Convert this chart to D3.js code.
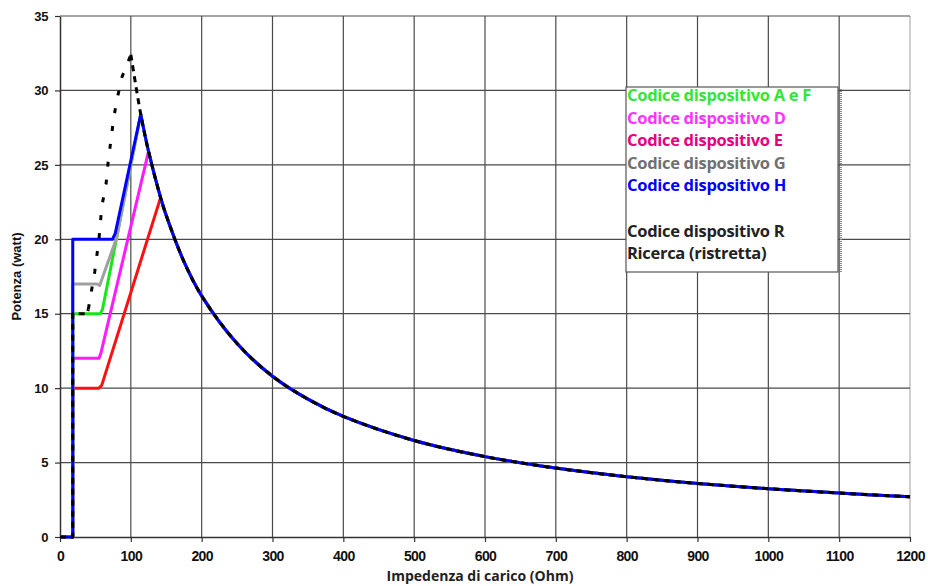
<!DOCTYPE html>
<html>
<head>
<meta charset="utf-8">
<title>Potenza / Impedenza</title>
<script src="https://cdn.jsdelivr.net/npm/d3@7"></script>
<style>
  body { margin: 0; background: #fff; }
  svg { display: block; }
</style>
</head>
<body>
<div id="chart"></div>
<script>
// ticks
var xTicks = [0, 100, 200, 300, 400, 500, 600, 700, 800, 900, 1000, 1100, 1200];
var yTicks = [0, 5, 10, 15, 20, 25, 30, 35];

// descending branch shared by every device (ohm, watt)
var tailOhm = [100, 114, 125, 142, 150, 175, 200, 250, 300, 350, 400, 500, 600, 700, 800, 900, 1000, 1100, 1200];
var tailWatt = [32.4, 28.4, 25.9, 22.8, 21.6, 18.5, 16.2, 13.0, 10.8, 9.26, 8.1, 6.48, 5.4, 4.63, 4.05, 3.6, 3.24, 2.95, 2.7];

// rising part of each device
var riseOhmAF = [0, 18, 18, 57, 60, 80, 114];
var riseWattAF = [0, 0, 15, 15, 15.3, 20.1, 28.4];
var riseOhmD = [0, 18, 18, 55, 58, 125];
var riseWattD = [0, 0, 12, 12, 12.4, 25.9];
var riseOhmE = [0, 18, 18, 55, 59, 142];
var riseWattE = [0, 0, 10, 10, 10.2, 22.8];
var riseOhmG = [0, 18, 18, 52, 56, 59, 80, 114];
var riseWattG = [0, 0, 17, 17, 16.9, 17.3, 20.1, 28.4];
var riseOhmH = [0, 18, 18, 74, 78, 114];
var riseWattH = [0, 0, 20, 20, 20.4, 28.4];
var riseOhmR = [0, 18, 18, 38, 40, 49, 55, 59, 65, 68, 72, 76, 80.5, 87.5, 100];
var riseWattR = [0, 0, 15, 15, 15.3, 17.8, 20, 22.2, 23.7, 25.2, 26.7, 28.2, 29.4, 30.9, 32.4];

var legendLabels = ["Codice dispositivo A e F", "Codice dispositivo D", "Codice dispositivo E",
  "Codice dispositivo G", "Codice dispositivo H", "", "Codice dispositivo R", "Ricerca (ristretta)"];
var legendColors = ["#33e633", "#ff33ff", "#e6007e", "#707070", "#0000ff", "#000", "#222", "#222"];

var series = [
  { ohm: riseOhmE, watt: riseWattE, color: "#ff1010", dash: null },
  { ohm: riseOhmD, watt: riseWattD, color: "#ff1aff", dash: null },
  { ohm: riseOhmAF, watt: riseWattAF, color: "#19e619", dash: null },
  { ohm: riseOhmG, watt: riseWattG, color: "#a0a0a0", dash: null },
  { ohm: riseOhmH, watt: riseWattH, color: "#0000ff", dash: null },
  { ohm: riseOhmR, watt: riseWattR, color: "#000000", dash: "6,5", rampDash: "5,13", rampFrom: 4 }
];

var w = 928, h = 586;
var margin = { top: 16, right: 18, bottom: 49, left: 60 };

var x = d3.scaleLinear().domain([0, 1200]).range([margin.left, w - margin.right]);
var y = d3.scaleLinear().domain([0, 35]).range([h - margin.bottom, margin.top]);

var svg = d3.select("#chart").append("svg")
  .attr("width", w)
  .attr("height", h);

// grid
svg.append("g").selectAll("line")
  .data(xTicks.slice(1))
  .enter().append("line")
  .attr("x1", function(d) { return x(d); })
  .attr("x2", function(d) { return x(d); })
  .attr("y1", y(35)).attr("y2", y(0))
  .attr("stroke", function(d) { return d === 1200 ? "#b0b0b0" : "#4a4a4a"; })
  .attr("stroke-width", 1.2);

svg.append("g").selectAll("line")
  .data(yTicks.slice(1))
  .enter().append("line")
  .attr("x1", x(0)).attr("x2", x(1200))
  .attr("y1", function(d) { return y(d); })
  .attr("y2", function(d) { return y(d); })
  .attr("stroke", "#4a4a4a")
  .attr("stroke-width", 1.2);

// axes
var xAxis = svg.append("g")
  .attr("transform", "translate(0," + y(0) + ")")
  .call(d3.axisBottom(x).tickValues(xTicks).tickFormat(d3.format("d"))
    .tickSize(5).tickSizeOuter(0).tickPadding(9));
var yAxis = svg.append("g")
  .attr("transform", "translate(" + x(0) + ",0)")
  .call(d3.axisLeft(y).tickValues(yTicks).tickFormat(d3.format("d"))
    .tickSize(5).tickSizeOuter(0).tickPadding(7));

[xAxis, yAxis].forEach(function(a) {
  a.select(".domain").attr("stroke", "#333").attr("stroke-width", 1.5);
  a.selectAll(".tick line").attr("stroke", "#333").attr("stroke-width", 1.2);
  a.selectAll("text")
    .attr("fill", "#111")
    .style("font-family", "'Liberation Sans', Arial, sans-serif")
    .style("font-weight", "bold");
});
xAxis.selectAll("text").style("font-size", "14px").style("letter-spacing", "-0.6px");
yAxis.selectAll("text").style("font-size", "13px").style("letter-spacing", "-0.4px");

// curves
var lineRise = d3.line()
  .x(function(d) { return x(d[0]); })
  .y(function(d) { return y(d[1]); });
var lineTail = d3.line()
  .x(function(d) { return x(d[0]); })
  .y(function(d) { return y(d[1]); })
  .curve(d3.curveCatmullRom.alpha(0.5));

series.forEach(function(s) {
  var rise = s.ohm.map(function(o, i) { return [o, s.watt[i]]; });
  var peak = s.ohm[s.ohm.length - 1];
  var tail = [];
  tailOhm.forEach(function(o, i) {
    if (o >= peak) tail.push([o, tailWatt[i]]);
  });
  var g = svg.append("g")
    .attr("fill", "none")
    .attr("stroke", s.color)
    .attr("stroke-width", 3)
    .attr("stroke-linejoin", "round");
  if (s.dash) g.attr("stroke-dasharray", s.dash);
  if (s.rampDash) {
    g.append("path").attr("d", lineRise(rise.slice(0, s.rampFrom + 1)));
    g.append("path").attr("d", lineRise(rise.slice(s.rampFrom)))
      .attr("stroke-dasharray", s.rampDash);
  } else {
    g.append("path").attr("d", lineRise(rise));
  }
  g.append("path").attr("d", lineTail(tail));
});

// legend
var lg = svg.append("g");
lg.append("line")
  .attr("x1", 841).attr("x2", 841).attr("y1", 89).attr("y2", 273)
  .attr("stroke", "#888").attr("stroke-width", 2).attr("stroke-dasharray", "1,1");
lg.append("rect")
  .attr("x", 626).attr("y", 87).attr("width", 212).attr("height", 185)
  .attr("fill", "#fff").attr("stroke", "#555").attr("stroke-width", 1.2);
lg.selectAll("text")
  .data(legendLabels)
  .enter().append("text")
  .attr("x", 627)
  .attr("y", function(d, i) { return 101 + i * 22.6; })
  .attr("fill", function(d, i) { return legendColors[i]; })
  .style("font-family", "'Open Sans', sans-serif")
  .style("font-weight", "bold")
  .style("font-size", "16.5px")
  .style("letter-spacing", "-0.3px")
  .text(function(d) { return d; });

// axis titles
svg.append("text")
  .attr("x", 480).attr("y", 581)
  .attr("text-anchor", "middle")
  .attr("fill", "#222")
  .style("font-family", "'Open Sans', sans-serif")
  .style("font-weight", "bold")
  .style("font-size", "14px")
  .text("Impedenza di carico (Ohm)");

svg.append("text")
  .attr("transform", "translate(21," + ((y(0) + y(35)) / 2) + ") rotate(-90)")
  .attr("text-anchor", "middle")
  .attr("fill", "#111")
  .style("font-family", "'Liberation Sans', Arial, sans-serif")
  .style("font-weight", "bold")
  .style("font-size", "13px")
  .text("Potenza (watt)");
</script>
</body>
</html>
